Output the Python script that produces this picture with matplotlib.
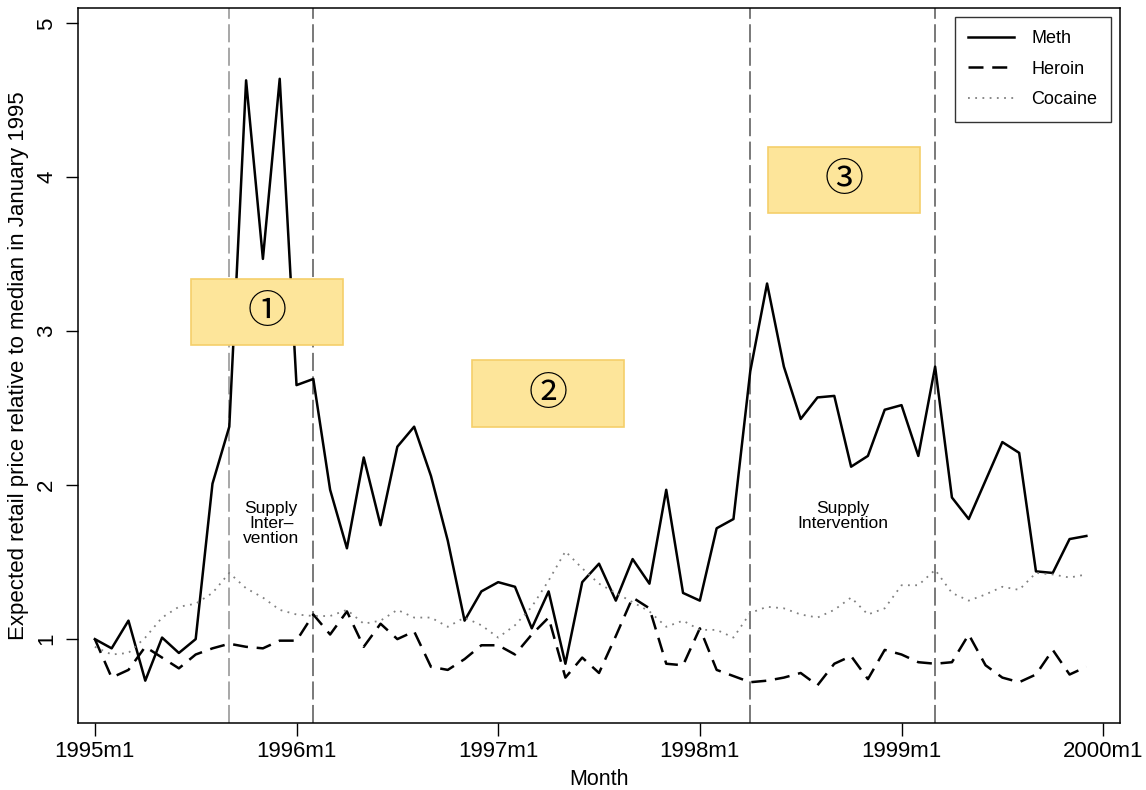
import numpy as np
import matplotlib
matplotlib.use("Agg")
import matplotlib.pyplot as plt
from matplotlib.patches import Rectangle

plt.rcParams["font.family"] = ["Liberation Sans", "DejaVu Sans"]

# --- data (monthly, 1995m1 .. 1999m12)
months = np.arange(60)
meth = [1.00, 0.94, 1.12, 0.73, 1.01, 0.91, 1.00, 2.01, 2.38, 4.63,
        3.47, 4.64, 2.65, 2.69, 1.97, 1.59, 2.18, 1.74, 2.25, 2.38,
        2.06, 1.64, 1.12, 1.31, 1.37, 1.34, 1.07, 1.31, 0.84, 1.37,
        1.49, 1.25, 1.52, 1.36, 1.97, 1.30, 1.25, 1.72, 1.78, 2.74,
        3.31, 2.77, 2.43, 2.57, 2.58, 2.12, 2.19, 2.49, 2.52, 2.19,
        2.77, 1.92, 1.78, 2.03, 2.28, 2.21, 1.44, 1.43, 1.65, 1.67]
heroin = [1.00, 0.75, 0.80, 0.95, 0.88, 0.81, 0.90, 0.94, 0.97, 0.95,
          0.94, 0.99, 0.99, 1.16, 1.03, 1.18, 0.95, 1.10, 1.00, 1.05,
          0.82, 0.80, 0.87, 0.96, 0.96, 0.90, 1.03, 1.14, 0.75, 0.88,
          0.78, 1.02, 1.27, 1.20, 0.84, 0.83, 1.07, 0.80, 0.76, 0.72,
          0.73, 0.75, 0.78, 0.70, 0.84, 0.89, 0.74, 0.93, 0.90, 0.85,
          0.84, 0.85, 1.03, 0.83, 0.75, 0.72, 0.77, 0.93, 0.77, 0.82]
cocaine = [0.95, 0.90, 0.91, 1.01, 1.14, 1.21, 1.23, 1.30, 1.43, 1.33,
           1.27, 1.19, 1.16, 1.15, 1.15, 1.19, 1.10, 1.12, 1.19, 1.14,
           1.14, 1.08, 1.14, 1.09, 1.01, 1.09, 1.21, 1.38, 1.57, 1.46,
           1.36, 1.30, 1.24, 1.18, 1.08, 1.12, 1.06, 1.06, 1.01, 1.17,
           1.21, 1.20, 1.16, 1.14, 1.19, 1.27, 1.16, 1.20, 1.35, 1.35,
           1.45, 1.30, 1.25, 1.29, 1.34, 1.32, 1.43, 1.42, 1.40, 1.42]

xtick_pos = [0, 12, 24, 36, 48, 60]
xtick_labels = ["1995m1", "1996m1", "1997m1", "1998m1", "1999m1", "2000m1"]
yticks = [1, 2, 3, 4, 5]

# intervention boundaries (month index)
interventions = [8, 13, 39, 50]
vline_colors = ["#a0a0a0", "#6e6e6e", "#6e6e6e", "#6e6e6e"]

# --- figure
fig = plt.figure(figsize=(11.46, 7.90), dpi=100)
ax = fig.add_axes([0.0681, 0.0848, 0.9092, 0.9051])

for xv, c in zip(interventions, vline_colors):
    ax.axvline(xv, color=c, lw=1.3, linestyle=(0, (10, 3)), zorder=1)

ax.plot(months, meth, color="black", lw=1.8, label="Meth", zorder=3)
ax.plot(months, heroin, color="black", lw=1.8, linestyle=(0, (6, 3.5)),
        label="Heroin", zorder=3)
ax.plot(months, cocaine, color="#808080", lw=1.3, linestyle=(0, (1, 3)),
        label="Cocaine", zorder=3)

ax.set_xlim(-1, 61)
ax.set_ylim(0.455, 5.1)
ax.set_xticks(xtick_pos)
ax.set_xticklabels(xtick_labels)
ax.set_yticks(yticks)
ax.set_yticklabels([str(v) for v in yticks], rotation=90, va="center")
ax.tick_params(axis="both", labelsize=16, length=9, width=1, direction="out")
ax.tick_params(axis="y", pad=6)
ax.tick_params(axis="x", pad=4)
for s in ax.spines.values():
    s.set_linewidth(1.1)

ax.set_xlabel("Month", fontsize=15.5, labelpad=5)
ax.set_ylabel("Expected retail price relative to median in January 1995",
              fontsize=16, labelpad=5)

leg = ax.legend(loc="upper right", bbox_to_anchor=(0.9915, 0.988), fontsize=13,
                frameon=True, fancybox=False, edgecolor="black",
                handlelength=2.5, handletextpad=1.0, borderpad=0.75,
                labelspacing=0.75, borderaxespad=0.0)
leg.get_frame().set_linewidth(1.0)

# supply intervention labels
ax.text(10.5, 1.75, "Supply\nInter\u2013\nvention", ha="center", va="center",
        fontsize=12.5, linespacing=1.0, zorder=4)
ax.text(44.5, 1.80, "Supply\nIntervention", ha="center", va="center",
        fontsize=12.5, linespacing=1.05, zorder=4)

# highlighted phase boxes
boxes = [(5.71, 2.91, 9.03, 0.43, "\u2460"),
         (22.47, 2.38, 9.04, 0.43, "\u2461"),
         (40.07, 3.77, 9.04, 0.43, "\u2462")]
for bx, by, bw, bh, lab in boxes:
    ax.add_patch(Rectangle((bx, by), bw, bh, facecolor="#fde59a",
                           edgecolor="#f5cf6a", lw=1.2, zorder=5))
    ax.text(bx + bw / 2, by + bh / 2, lab, ha="center", va="center",
            fontsize=28, family=["Noto Sans CJK JP", "DejaVu Sans"], zorder=6)

fig.savefig("out.png", dpi=100)
